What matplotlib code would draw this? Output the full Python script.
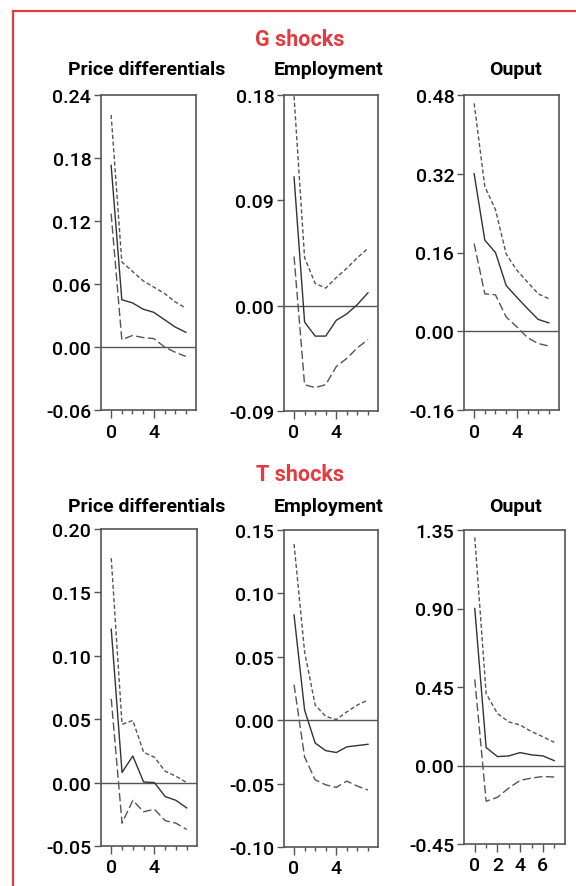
import matplotlib
matplotlib.use("Agg")
import matplotlib.pyplot as plt
from matplotlib.ticker import MultipleLocator

plt.rcParams['font.family'] = ['Roboto', 'DejaVu Sans']

W, H = 576, 887
RED = '#e23b40'
GREY = '#555555'

horizon = list(range(8))

# G shocks
g_price_mid = [0.173, 0.045, 0.042, 0.036, 0.033, 0.026, 0.019, 0.014]
g_price_hi = [0.221, 0.081, 0.072, 0.063, 0.057, 0.051, 0.043, 0.037]
g_price_lo = [0.127, 0.007, 0.011, 0.009, 0.008, 0.000, -0.005, -0.009]

g_emp_mid = [0.110, -0.014, -0.026, -0.026, -0.0125, -0.007, 0.001, 0.011]
g_emp_hi = [0.179, 0.041, 0.019, 0.015, 0.024, 0.032, 0.041, 0.049]
g_emp_lo = [0.042, -0.0675, -0.070, -0.0675, -0.052, -0.045, -0.036, -0.029]

g_out_mid = [0.320, 0.185, 0.160, 0.093, 0.069, 0.046, 0.024, 0.017]
g_out_hi = [0.463, 0.294, 0.247, 0.157, 0.124, 0.100, 0.076, 0.066]
g_out_lo = [0.178, 0.076, 0.074, 0.029, 0.009, -0.013, -0.025, -0.030]

# T shocks
t_price_mid = [0.121, 0.008, 0.021, 0.0005, 0.000, -0.011, -0.014, -0.020]
t_price_hi = [0.177, 0.046, 0.049, 0.024, 0.020, 0.009, 0.005, 0.000]
t_price_lo = [0.066, -0.032, -0.014, -0.023, -0.021, -0.030, -0.032, -0.037]

t_emp_mid = [0.083, 0.008, -0.018, -0.024, -0.0255, -0.021, -0.020, -0.019]
t_emp_hi = [0.139, 0.054, 0.012, 0.003, 0.0005, 0.0066, 0.012, 0.016]
t_emp_lo = [0.028, -0.029, -0.047, -0.051, -0.053, -0.048, -0.052, -0.055]

t_out_mid = [0.900, 0.103, 0.051, 0.055, 0.074, 0.061, 0.055, 0.028]
t_out_hi = [1.308, 0.412, 0.298, 0.250, 0.232, 0.194, 0.165, 0.133]
t_out_lo = [0.494, -0.205, -0.182, -0.129, -0.085, -0.072, -0.063, -0.066]

panels = [
    # (left, top, right, bottom px), data, yticks, xticks
    ((101, 96, 196, 411), (g_price_mid, g_price_hi, g_price_lo), [-0.06, 0.0, 0.06, 0.12, 0.18, 0.24], [0, 4]),
    ((284, 96, 378, 412), (g_emp_mid, g_emp_hi, g_emp_lo), [-0.09, 0.0, 0.09, 0.18], [0, 4]),
    ((464, 96, 559, 411), (g_out_mid, g_out_hi, g_out_lo), [-0.16, 0.0, 0.16, 0.32, 0.48], [0, 4]),
    ((101, 530, 197, 847), (t_price_mid, t_price_hi, t_price_lo), [-0.05, 0.0, 0.05, 0.10, 0.15, 0.20], [0, 4]),
    ((284, 531, 378, 848), (t_emp_mid, t_emp_hi, t_emp_lo), [-0.10, -0.05, 0.0, 0.05, 0.10, 0.15], [0, 4]),
    ((464, 531, 565, 845), (t_out_mid, t_out_hi, t_out_lo), [-0.45, 0.0, 0.45, 0.90, 1.35], [0, 2, 4, 6]),
]

fig = plt.figure(figsize=(W / 100, H / 100), dpi=100)

for (l, t, r, b), (mid, hi, lo), yt, xt in panels:
    ax = fig.add_axes([l / W, 1 - b / H, (r - l) / W, (b - t) / H])
    ax.axhline(0, color=GREY, lw=1.0, zorder=1)
    ax.plot(horizon, hi, color=GREY, lw=1.0, linestyle=(0, (3, 1.8)))
    ax.plot(horizon, mid, color='#333333', lw=1.0)
    ax.plot(horizon, lo, color=GREY, lw=1.0, linestyle=(0, (6, 2.5)))
    ax.set_xlim(-0.95, 7.95)
    ax.set_ylim(yt[0], yt[-1])
    ax.set_yticks(yt)
    ax.set_yticklabels(['{:.2f}'.format(v) for v in yt], fontweight='medium')
    ax.set_xticks(xt)
    ax.set_xticklabels([str(v) for v in xt], fontweight='medium')
    ax.xaxis.set_minor_locator(MultipleLocator(1))
    ax.tick_params(axis='both', which='major', direction='out', length=5, width=1,
                   color=GREY, labelsize=14, pad=2)
    ax.tick_params(axis='x', which='major', length=6, pad=3)
    ax.tick_params(axis='x', which='minor', length=3, width=1, color=GREY)
    for s in ax.spines.values():
        s.set_color(GREY)
        s.set_linewidth(1.2)

def ftext(x, y, s, **kw):
    fig.text(x / W, 1 - y / H, s, ha='center', va='center', **kw)

ftext(300, 40, 'G shocks', color=RED, fontsize=15.5, fontweight='bold')
ftext(147, 70, 'Price differentials', fontsize=14, fontweight='bold')
ftext(329, 70, 'Employment', fontsize=14, fontweight='bold')
ftext(516, 70, 'Ouput', fontsize=14, fontweight='bold')

ftext(300, 475, 'T shocks', color=RED, fontsize=15.5, fontweight='bold')
ftext(147, 507, 'Price differentials', fontsize=14, fontweight='bold')
ftext(329, 507, 'Employment', fontsize=14, fontweight='bold')
ftext(516, 507, 'Ouput', fontsize=14, fontweight='bold')

# red frame on left and top
fig.add_artist(plt.Line2D([13 / W, 13 / W], [0, 1 - 12 / H], color=RED, lw=1.6))
fig.add_artist(plt.Line2D([13 / W, 1], [1 - 12 / H, 1 - 12 / H], color=RED, lw=1.6))

fig.savefig('out.png', dpi=100)
